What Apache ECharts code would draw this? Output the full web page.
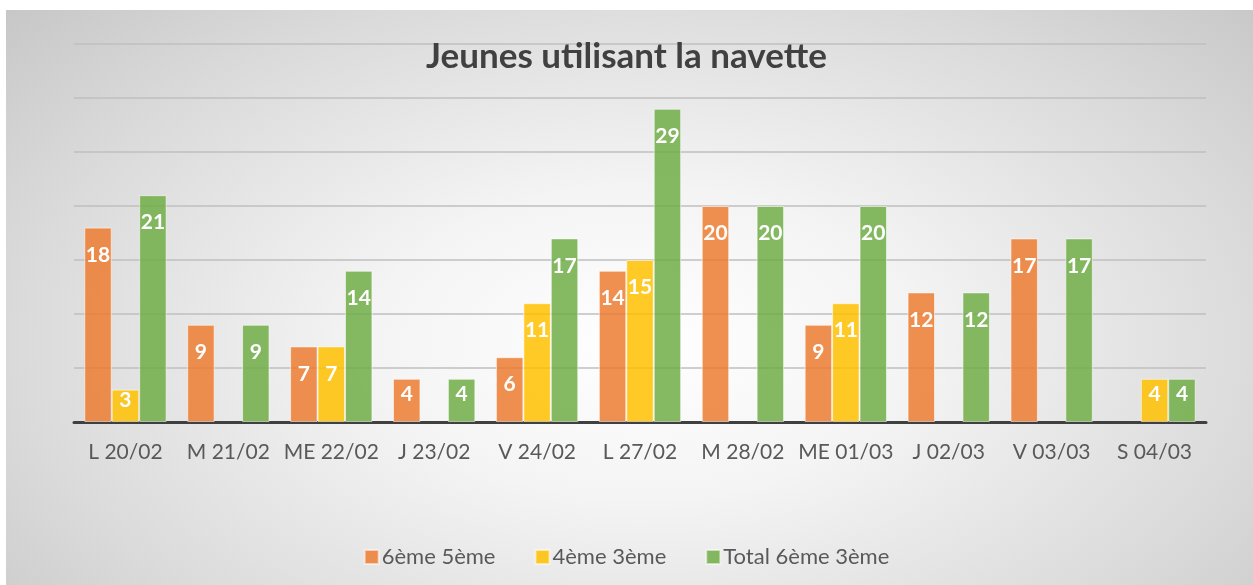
<!DOCTYPE html>
<html>
<head>
<meta charset="utf-8">
<script src="https://cdn.jsdelivr.net/npm/echarts@6/dist/echarts.min.js"></script>
<style>
html,body{margin:0;padding:0;background:#fff;width:1253px;height:585px;overflow:hidden;}
#bg{position:absolute;left:6px;top:10px;width:1247px;height:575px;
background:radial-gradient(ellipse 72% 90% at 51% 58%, #ffffff 0%, #f4f4f4 30%, #dadada 70%, #c4c4c4 100%);}
#chart{position:absolute;left:0;top:0;width:1253px;height:585px;}
</style>
</head>
<body>
<div id="bg"></div>
<div id="chart"></div>
<script>
const categories = ['L 20/02','M 21/02','ME 22/02','J 23/02','V 24/02','L 27/02','M 28/02','ME 01/03','J 02/03','V 03/03','S 04/03'];
const seriesNames = ['6ème 5ème','4ème 3ème','Total 6ème 3ème'];
const s6e5e = [18, 9, 7, 4, 6, 14, 20, 9, 12, 17, null];
const s4e3e = [3, null, 7, null, 11, 15, null, 11, null, null, 4];
const total = [21, 9, 14, 4, 17, 29, 20, 20, 12, 17, 4];
const colors = ['rgba(237,125,49,0.85)','rgba(255,192,0,0.85)','rgba(112,173,71,0.85)'];

function toData(arr){
  return arr.map(v => {
    if (v === null) return null;
    if (v <= 4) return {value: v, label: {position: 'inside', offset: [0, -6]}};
    return v;
  });
}

const chart = echarts.init(document.getElementById('chart'), null, {renderer:'canvas'});
const labelCfg = {show:true, position:'insideTop', distance:17, color:'#fff', fontFamily:'Lato', fontWeight:'bold', fontSize:21};
const mk = (name, arr, i) => ({
  name, type:'bar', data: toData(arr), barGap:'0%', barCategoryGap:'20%',
  itemStyle:{color:colors[i], borderColor:'rgba(255,255,255,0.55)', borderWidth:1},
  label: labelCfg
});
chart.setOption({
  backgroundColor:'transparent',
  animation:false,
  title:{text:'Jeunes utilisant la navette', left:'center', top:34,
    textStyle:{fontFamily:'Lato', fontWeight:'bold', fontSize:35, color:'#404040'}},
  legend:{top:541, left:'center', itemWidth:14, itemHeight:14, itemGap:39,
    icon:'rect',
    textStyle:{fontFamily:'Lato', fontSize:22, color:'#595959', padding:[0,0,0,-2]}},
  grid:{left:74, right:47, top:44, bottom:163},
  xAxis:{type:'category', data:categories,
    axisLine:{lineStyle:{color:'#404040', width:3}},
    axisTick:{show:false},
    axisLabel:{interval:0, fontFamily:'Lato', fontSize:21, color:'#595959', margin:20}},
  yAxis:{type:'value', min:0, max:35, interval:5,
    axisLabel:{show:false}, axisLine:{show:false}, axisTick:{show:false},
    splitLine:{lineStyle:{color:'#bfbfbf', width:1.5}}},
  series:[mk(seriesNames[0], s6e5e, 0), mk(seriesNames[1], s4e3e, 1), mk(seriesNames[2], total, 2)]
});
</script>
</body>
</html>
